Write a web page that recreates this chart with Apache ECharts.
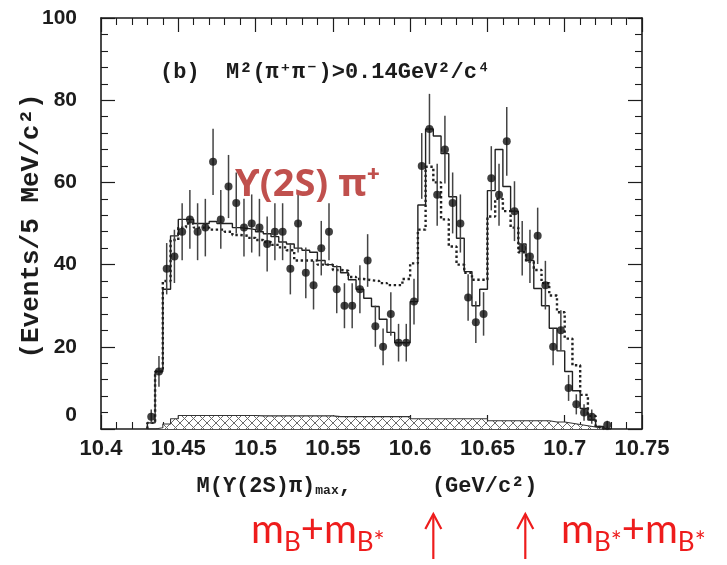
<!DOCTYPE html>
<html>
<head>
<meta charset="UTF-8">
<title>M(Y(2S)pi)max</title>
<script src="https://cdn.jsdelivr.net/npm/echarts@6/dist/echarts.min.js"></script>
<style>
  html, body { margin: 0; padding: 0; background: #fff; }
  #chart { width: 727px; height: 565px; }
</style>
</head>
<body>
<div id="chart"></div>
<script>
// 5 MeV bins (centres, GeV/c^2)
var binCenters = [
  10.4325, 10.4375, 10.4425, 10.4475, 10.4525, 10.4575, 10.4625, 10.4675, 10.4725, 10.4775,
  10.4825, 10.4875, 10.4925, 10.4975, 10.5025, 10.5075, 10.5125, 10.5175, 10.5225, 10.5275,
  10.5325, 10.5375, 10.5425, 10.5475, 10.5525, 10.5575, 10.5625, 10.5675, 10.5725, 10.5775,
  10.5825, 10.5875, 10.5925, 10.5975, 10.6025, 10.6075, 10.6125, 10.6175, 10.6225, 10.6275,
  10.6325, 10.6375, 10.6425, 10.6475, 10.6525, 10.6575, 10.6625, 10.6675, 10.6725, 10.6775,
  10.6825, 10.6875, 10.6925, 10.6975, 10.7025, 10.7075, 10.7125, 10.7175, 10.7225, 10.7275
];
var binWidth = 0.005;

// data points (events / bin)
var counts = [
  3, 14, 39, 42, 48, 51, 48, 49, 65, 51,
  59, 55, 49, 50, 49, 45, 48, 48, 39, 50,
  38, 35, 44, 48, 34, 30, 30, 34, 41, 25,
  20, 28, 21, 21, 31, 64, 73, 57, 68, 55,
  50, 32, 26, 28, 61, 57, 70, 53, 44, 42,
  47, 35, 20, 24, 10, 6, 4, 3, null, 1
];

// fit with Zb signals (solid)
var fitTotal = [
  1.5, 14, 34, 47, 51, 51, 50, 50, 50.5, 50,
  50, 49, 48.8, 48.5, 48, 47.5, 46.8, 45.5, 45, 44,
  43.5, 43, 41, 40, 39.5, 38, 36.3, 34, 31.8, 29.8,
  26.7, 23.5, 21, 21, 31, 54.5, 73, 71.3, 67, 56.5,
  46.4, 38.3, 30, 34, 58, 68, 59, 53, 45, 41,
  34.2, 30, 24.5, 19, 14, 9.3, 5, 2.2, 0.6, 0
];

// alternative fit (dotted)
var fitDotted = [
  1.5, 14, 36, 46, 49, 50, 49, 49, 48.5, 48.5,
  48, 47.2, 47, 46.5, 46, 45.5, 44.8, 44.2, 43.5, 41,
  41, 41, 40, 40, 38.7, 38.5, 37, 36.5, 36.2, 36,
  35.5, 35, 35, 36.5, 40.3, 48.5, 63.8, 60, 51, 44.4,
  40, 38, 36.3, 36.3, 51.7, 56, 53, 49, 43, 40.7,
  38.7, 35.5, 32.5, 28.4, 22, 15.5, 8.3, 3.2, 0.5, 0
];

// background (hatched)
var background = [
  0, 0.3, 1.2, 2.5, 3.3, 3.3, 3.3, 3.3, 3.3, 3.3,
  3.3, 3.3, 3.3, 3.3, 3.2, 3.2, 3.2, 3.2, 3.2, 3.2,
  3.2, 3.2, 3.2, 3.2, 3.0, 3.0, 3.0, 3.0, 3.0, 3.0,
  3.0, 3.0, 3.0, 3.0, 2.5, 2.5, 2.5, 2.5, 2.5, 2.5,
  2.5, 2.5, 2.5, 2.5, 2.0, 2.0, 2.0, 2.0, 2.0, 2.0,
  2.0, 2.0, 1.7, 1.7, 1.4, 1.1, 0.8, 0.5, 0.2, 0
];

// annotation arrows (x positions on the mass axis)
var arrowMasses = [10.615, 10.6745];

var MONO = '"Liberation Mono", "DejaVu Sans Mono", monospace';
var SANS = '"Liberation Sans", Arial, sans-serif';
var INK = '#1c1c1c';
var RED = '#ee1c1c';

function steps(vals) {
  var pts = [[binCenters[0] - binWidth / 2, 0]];
  for (var i = 0; i < vals.length; i++) {
    pts.push([binCenters[i] - binWidth / 2, vals[i]]);
    pts.push([binCenters[i] + binWidth / 2, vals[i]]);
  }
  pts.push([binCenters[vals.length - 1] + binWidth / 2, 0]);
  return pts;
}

var points = [];
for (var i = 0; i < counts.length; i++) {
  if (counts[i] != null) points.push([binCenters[i], counts[i]]);
}

function hatch() {
  var c = document.createElement('canvas');
  c.width = 9; c.height = 9;
  var g = c.getContext('2d');
  g.fillStyle = '#fff';
  g.fillRect(0, 0, 9, 9);
  g.strokeStyle = '#6a6a6a';
  g.lineWidth = 1;
  g.beginPath();
  g.moveTo(0, 0); g.lineTo(9, 9);
  g.moveTo(9, 0); g.lineTo(0, 9);
  g.stroke();
  return c;
}

function xLabel(v) { return String(parseFloat(v.toFixed(2))); }

var lineCfg = { show: true, onZero: false, lineStyle: { color: INK, width: 1.6 } };
var tickCfg = { show: true, inside: true, length: 14, lineStyle: { color: INK, width: 1.2 } };
var minorCfg = { show: true, splitNumber: 5, length: 7, lineStyle: { color: INK, width: 1.1 } };

var chart = echarts.init(document.getElementById('chart'), null, { renderer: 'canvas' });

var option = {
  animation: false,
  backgroundColor: '#fff',
  grid: { left: 101, right: 85, top: 18, bottom: 136, outerBoundsMode: 'none' },
  xAxis: [{
    type: 'value', min: 10.4, max: 10.75, interval: 0.05, position: 'bottom',
    axisLine: lineCfg, axisTick: tickCfg, minorTick: minorCfg,
    splitLine: { show: false },
    axisLabel: { formatter: xLabel, fontFamily: SANS, fontWeight: 'bold', fontSize: 22, color: INK, margin: 9 }
  }, {
    type: 'value', min: 10.4, max: 10.75, interval: 0.05, position: 'top',
    axisLine: lineCfg, axisTick: tickCfg, minorTick: minorCfg,
    splitLine: { show: false }, axisLabel: { show: false }
  }],
  yAxis: [{
    type: 'value', min: 0, max: 100, interval: 20, position: 'left',
    axisLine: lineCfg, axisTick: tickCfg, minorTick: minorCfg,
    splitLine: { show: false },
    axisLabel: {
      fontFamily: SANS, fontWeight: 'bold', fontSize: 21, color: INK, margin: 24,
      formatter: function (v) { return v === 0 ? '{z|0}' : String(v); },
      rich: { z: { fontFamily: SANS, fontWeight: 'bold', fontSize: 21, color: INK, padding: [0, 0, 28, 0] } }
    }
  }, {
    type: 'value', min: 0, max: 100, interval: 20, position: 'right',
    axisLine: lineCfg, axisTick: tickCfg, minorTick: minorCfg,
    splitLine: { show: false }, axisLabel: { show: false }
  }],
  series: [{
    name: 'background', type: 'line', data: steps(background),
    symbol: 'none', silent: true, z: 1,
    lineStyle: { color: '#333', width: 1.1 },
    areaStyle: { color: { image: hatch(), repeat: 'repeat' }, opacity: 1 }
  }, {
    name: 'fit dotted', type: 'line', data: steps(fitDotted),
    symbol: 'none', silent: true, z: 2,
    lineStyle: { color: '#222', width: 2.4, type: [2.4, 2.6], cap: 'butt' }
  }, {
    name: 'fit', type: 'line', data: steps(fitTotal),
    symbol: 'none', silent: true, z: 2,
    lineStyle: { color: '#222', width: 1.4 }
  }, {
    name: 'errors', type: 'custom', data: points, z: 3,
    encode: { x: 0, y: 1 },
    renderItem: function (params, api) {
      var x = api.value(0), y = api.value(1), e = Math.sqrt(y);
      var lo = api.coord([x, Math.max(0, y - e)]);
      var hi = api.coord([x, y + e]);
      return { type: 'line', shape: { x1: lo[0], y1: lo[1], x2: hi[0], y2: hi[1] },
               style: { stroke: '#444', lineWidth: 1.5 } };
    }
  }, {
    name: 'data', type: 'scatter', data: points, z: 4,
    symbol: 'circle', symbolSize: 8,
    itemStyle: { color: '#111' }
  }]
};

chart.setOption(option);

var gfx = [];
// y axis title
gfx.push({
  type: 'text', x: 31, y: 226, rotation: Math.PI / 2, z: 10,
  style: { text: '(Events/5 MeV/c\u00b2)', align: 'center', verticalAlign: 'middle',
           font: 'bold 26px ' + MONO, fill: INK }
});
// in-plot selection label
gfx.push({
  type: 'text', left: 160, top: 61, z: 10,
  style: { text: '(b)  M\u00b2(\u03c0\u207a\u03c0\u207b)>0.14GeV\u00b2/c\u2074',
           font: 'bold 22px ' + MONO, fill: INK }
});
// red channel label
gfx.push({
  type: 'text', left: 235, top: 166, z: 10,
  style: { text: '\u03d2(2S) \u03c0\u207a', font: 'bold 38px "Noto Sans", sans-serif', fill: '#c0504d' }
});
// x axis title
gfx.push({
  type: 'text', z: 10,
  style: {
    x: 367, y: 486, align: 'center', verticalAlign: 'middle',
    text: '{a|M(\u03d2(2S)\u03c0)}{s|max}{a|,}{g|}{a|(GeV/c\u00b2)}',
    rich: {
      a: { font: 'bold 22px ' + MONO, fill: INK, lineHeight: 22, padding: [12, 0, 12, 0] },
      s: { font: 'bold 13px ' + MONO, fill: INK, lineHeight: 13, verticalAlign: 'bottom' },
      g: { width: 80 }
    }
  }
});
// bottom mass annotations
var richRed = {
  m: { font: '40px Lato, "Open Sans", sans-serif', fill: RED, lineHeight: 40, padding: [0, 0, 12, 0] },
  b: { font: '26px Lato, "Open Sans", sans-serif', fill: RED, lineHeight: 26, verticalAlign: 'bottom' }
};
gfx.push({
  type: 'text', z: 10,
  style: { x: 251, y: 516, text: '{m|m}{b|B}{m|+m}{b|B*}', rich: richRed }
});
gfx.push({
  type: 'text', z: 10,
  style: { x: 561, y: 516, text: '{m|m}{b|B*}{m|+m}{b|B*}', rich: richRed }
});
arrowMasses.forEach(function (m) {
  var px = chart.convertToPixel({ xAxisIndex: 0 }, m);
  gfx.push({ type: 'line', z: 10, shape: { x1: px, y1: 514, x2: px, y2: 559 },
             style: { stroke: RED, lineWidth: 2.2 } });
  gfx.push({ type: 'polyline', z: 10, shape: { points: [[px - 8, 529], [px, 514], [px + 8, 529]] },
             style: { stroke: RED, lineWidth: 2.2, fill: null } });
});

chart.setOption({ graphic: { elements: gfx } });
</script>
</body>
</html>
